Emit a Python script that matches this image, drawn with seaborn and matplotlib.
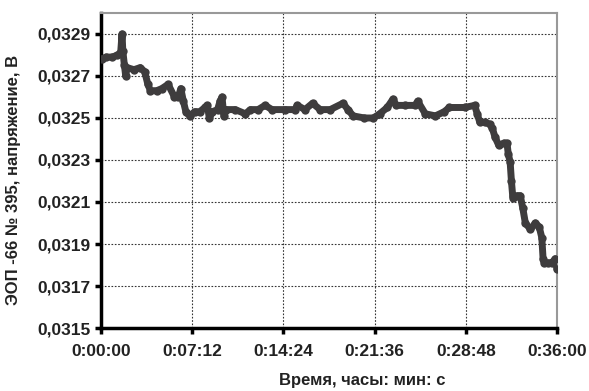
import numpy as np
import pandas as pd
import matplotlib
matplotlib.use("Agg")
import matplotlib.pyplot as plt
from matplotlib.ticker import FuncFormatter, FixedLocator
import seaborn as sns

# time, minutes from start
time_min = [0.05, 0.4, 0.9, 1.3, 1.55, 1.66, 1.72, 1.85, 1.95, 2.05,
            2.6, 3.1, 3.45, 3.7, 3.9, 4.4, 4.8, 5.3, 5.8, 6.1,
            6.3, 6.5, 6.7, 7.0, 7.4, 7.8, 8.2, 8.4, 8.55, 8.8,
            9.2, 9.4, 9.55, 9.7, 9.9, 10.6, 11.4, 11.8, 12.4, 12.95,
            13.5, 14.5, 15.3, 15.5, 16.1, 16.7, 17.3, 18.1, 19.1, 19.5,
            19.9, 20.8, 21.5, 22.0, 22.6, 23.05, 23.3, 24.0, 24.8, 25.0,
            25.6, 26.4, 27.1, 27.5, 28.7, 29.5, 29.7, 29.9, 30.3, 30.7,
            30.9, 31.1, 31.4, 31.8, 32.05, 32.15, 32.3, 32.4, 32.5, 32.55,
            32.85, 33.1, 33.3, 33.5, 33.9, 34.3, 34.6, 34.8, 34.9, 35.0,
            35.3, 35.6, 35.85, 36.0]

# voltage, V
voltage = [0.03278, 0.03279, 0.03279, 0.03280, 0.03281, 0.03290, 0.03282, 0.03275, 0.03270, 0.03274,
           0.03273, 0.03274, 0.03272, 0.03266, 0.03263, 0.03263, 0.03264, 0.03266, 0.03260, 0.03260,
           0.03264, 0.03258, 0.03253, 0.03251, 0.03253, 0.03253, 0.03255, 0.03256, 0.03250, 0.03253,
           0.03254, 0.03258, 0.03260, 0.03251, 0.03254, 0.03254, 0.03252, 0.03254, 0.03254, 0.03256,
           0.03254, 0.03254, 0.03254, 0.03256, 0.03254, 0.03257, 0.03254, 0.03254, 0.03257, 0.03254,
           0.03251, 0.03250, 0.03250, 0.03252, 0.03255, 0.03259, 0.03256, 0.03256, 0.03256, 0.03258,
           0.03252, 0.03251, 0.03253, 0.03255, 0.03255, 0.03256, 0.03252, 0.03248, 0.03248, 0.03247,
           0.03245, 0.03241, 0.03237, 0.03238, 0.03238, 0.03233, 0.03229, 0.03220, 0.03213, 0.03212,
           0.03213, 0.03213, 0.03207, 0.03200, 0.03197, 0.03200, 0.03198, 0.03193, 0.03183, 0.03181,
           0.03181, 0.03181, 0.03183, 0.03178]

x_ticks = [0, 7.2, 14.4, 21.6, 28.8, 36.0]
y_ticks = [0.0315, 0.0317, 0.0319, 0.0321, 0.0323, 0.0325, 0.0327, 0.0329]

df = pd.DataFrame({"t": time_min, "v": voltage})

sns.set_style("white")
plt.rcParams['font.family'] = ['Liberation Sans', 'DejaVu Sans']
plt.rcParams['font.weight'] = 'bold'

fig = plt.figure(figsize=(5.89, 3.91), dpi=100)
ax = fig.add_axes([0.1715, 0.1611, 0.9457 - 0.1715, 0.9668 - 0.1611])

col = "#3e3c3d"
sns.lineplot(data=df, x="t", y="v", ax=ax, color=col, linewidth=5,
             marker="o", markersize=6, markeredgewidth=0, zorder=3)

ax.set_xlim(0, 36)
ax.set_ylim(0.0315, 0.0330)
ax.xaxis.set_major_locator(FixedLocator(x_ticks))
ax.yaxis.set_major_locator(FixedLocator(y_ticks))


def fmt_time(x, pos):
    s = int(round(x * 60))
    return "%d:%02d:%02d" % (s // 3600, (s % 3600) // 60, s % 60)


ax.xaxis.set_major_formatter(FuncFormatter(fmt_time))
ax.yaxis.set_major_formatter(FuncFormatter(lambda y, p: ("%.4f" % y).replace(".", ",")))

ax.grid(True, color="#333333", linestyle=(0, (1.5, 1.5)), linewidth=0.8)
ax.set_axisbelow(True)

for side in ["top", "right"]:
    ax.spines[side].set_color("#999999")
    ax.spines[side].set_linewidth(1.5)
for side in ["left", "bottom"]:
    ax.spines[side].set_color("black")
    ax.spines[side].set_linewidth(2.5)

ax.tick_params(axis="both", direction="out", length=4.5, width=2.5, color="black",
               labelsize=12.5, bottom=True, left=True)
ax.tick_params(axis="x", pad=7)
ax.tick_params(axis="y", pad=3)
for lab in ax.get_xticklabels() + ax.get_yticklabels():
    lab.set_fontweight("bold")
    lab.set_color("#222222")

ax.set_xlabel("")
ax.set_ylabel("")
fig.text(362 / 589, 1 - 381 / 391, "Время, часы: мин: с", fontsize=12, fontweight="bold",
         color="#222222", ha="center", va="center")
fig.text(14 / 589, 1 - 180 / 391, "ЭОП -66 № 395, напряжение, В", fontsize=12, fontweight="bold",
         color="#222222", ha="center", va="center", rotation=90)

fig.savefig("out.png", dpi=100)
